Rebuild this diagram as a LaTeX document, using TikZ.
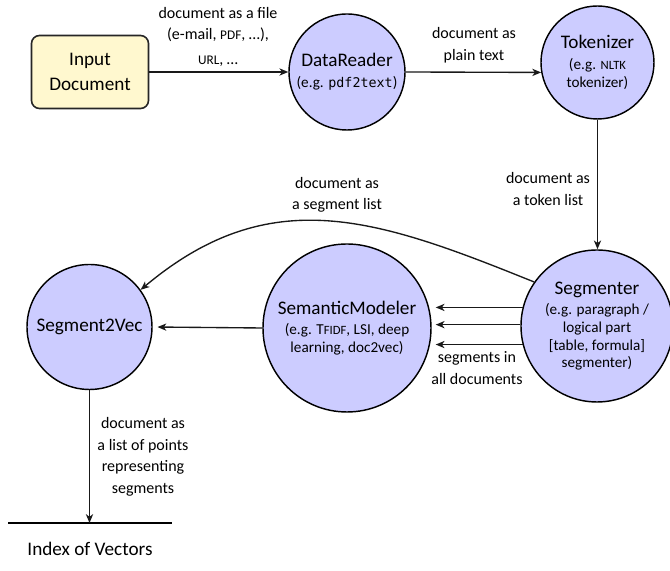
\documentclass[tikz,border=0pt]{standalone}
\usepackage{fontspec}
\setmainfont{Carlito}
\newfontfamily\monof{DejaVu Sans Mono}[Scale=0.88]
\usetikzlibrary{arrows.meta,calc}
\definecolor{lavender}{HTML}{CCCCFF}
\definecolor{paleyellow}{HTML}{FFF8CF}
\definecolor{boxedge}{HTML}{262626}
\newcommand{\smcap}[1]{{\fontsize{8.3}{10}\selectfont #1}}
\newcommand{\subsmcap}[1]{{\fontsize{7.9}{10}\selectfont #1}}
\newcommand{\titlef}{\fontsize{12}{11}\selectfont}
\newcommand{\subf}{\fontsize{9.5}{11}\selectfont}
\begin{document}
\begin{tikzpicture}[x=0.625pt,y=0.625pt,
  proc/.style={circle, draw=black, line width=0.9pt, fill=lavender, inner sep=0pt, align=center, font=\subf},
  inbox/.style={rectangle, rounded corners=5pt, draw=boxedge, line width=1pt, fill=paleyellow, align=center, inner sep=0pt, font=\fontsize{12}{15.5}\selectfont},
  lbl/.style={align=center, inner sep=0pt, font=\fontsize{10}{13.5}\selectfont},
  arr/.style={-{Stealth[length=5.5pt,width=4.5pt,inset=1.6pt]}, line width=0.85pt, draw=black!90}
]
\useasboundingbox (0,0) rectangle (670,571);

% nodes
\node[inbox, minimum width=117*0.625pt, minimum height=73*0.625pt] (input) at (90,499) {Input\\Document};
\node[proc, minimum size=116*0.625pt] (dr) at (347,499) {{\titlef DataReader}\\[2pt](e.g. {\monof pdf2text})};
\node[proc, minimum size=113*0.625pt] (tok) at (597.5,508.5) {{\titlef Tokenizer}\\[2pt](e.g. \subsmcap{NLTK}\\tokenizer)};
\node[proc, minimum size=152*0.625pt] (seg) at (597,245) {{\titlef Segmenter}\\[2pt](e.g. paragraph /\\logical part\\{[}table, formula{]}\\segmenter)};
\node[proc, minimum size=168*0.625pt] (sm) at (347,243) {{\titlef SemanticModeler}\\[2pt](e.g. T\subsmcap{FIDF}, LSI, deep\\learning, doc2vec)};
\node[proc, minimum size=125*0.625pt, font=\titlef] (s2v) at (89.5,244) {Segment2Vec};

% index of vectors
\coordinate (idxL) at (8,48);
\coordinate (idxR) at (172,48);
\draw[line width=1.5pt] (idxL) -- (idxR);
\coordinate (idxM) at (89.5,48);
\node[font=\fontsize{12}{15}\selectfont, inner sep=0pt] (idx) at (90,22) {Index of Vectors};

% connectors
\draw[arr] (input.east) -- (dr.west);
\draw[arr] (dr.east) -- (tok.190);
\draw[arr] (tok.south) -- (tok.south |- seg.north);
\draw[arr] (seg.145) to[out=158, in=40, looseness=1.1] (s2v.36);
\draw[arr, shorten >=2.5pt] (seg.166) -- (seg.166 -| sm.east);
\draw[arr, shorten >=2.5pt] (seg.179) -- (seg.179 -| sm.east);
\draw[arr, shorten >=2.5pt] (seg.194) -- (seg.194 -| sm.east);
\draw[arr, shorten >=3pt] (sm.west) -- (s2v.east);
\draw[arr] (s2v.south) -- (s2v.south |- idxM);

% labels
\node[lbl] (l1) at (218,534) {document as a file\\(e-mail, \smcap{PDF}, \dots),\\[2pt]\smcap{URL}, \dots};
\node[lbl] (l2) at (474,526) {document as\\plain text};
\node[lbl] (l3) at (548,382) {document as\\a token list};
\node[lbl] (l4) at (337,376) {document as\\a segment list};
\node[lbl] (l5) at (477,203) {segments in\\all documents};
\node[lbl] (l6) at (143,114) {document as\\a list of points\\representing\\segments};
\end{tikzpicture}
\end{document}
